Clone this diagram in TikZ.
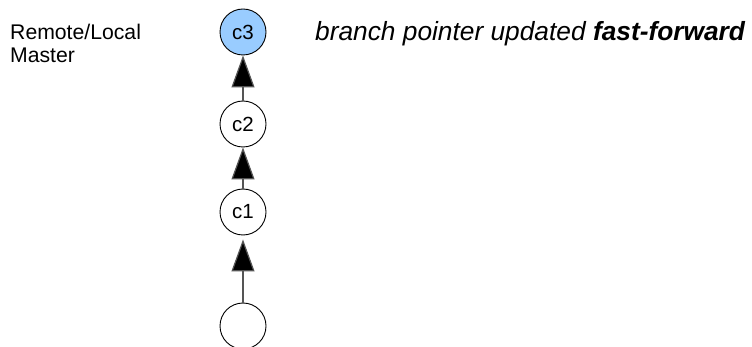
\documentclass[tikz,border=0pt]{standalone}
\usepackage{fontspec}
\setmainfont{Liberation Sans}
\usetikzlibrary{arrows.meta,shapes.geometric}
\definecolor{headblue}{HTML}{99CCFF}
\definecolor{linegray}{HTML}{555555}
\begin{document}
\begin{tikzpicture}[x=1pt,y=-1pt,
  commit/.style={circle,draw=black,line width=0.9pt,minimum size=46pt,inner sep=0pt,font=\fontsize{20.5}{22}\selectfont},
  parent/.style={draw=linegray,line width=1.2pt,-{Triangle[width=23pt,length=32pt,fill=black]}}]
\useasboundingbox (0,0) rectangle (752,347);
\clip (0,0) rectangle (752,347);
\node[commit,fill=headblue] (c3) at (243,32) {c3};
\node[commit,fill=white] (c2) at (243,124) {c2};
\node[commit,fill=white] (c1) at (243,212) {c1};
\node[commit,fill=white] (c0) at (243,326) {};
\draw[parent] (c2) -- (c3);
\draw[parent] (c1) -- (c2);
\draw[parent,shorten >=4pt] (c0) -- (c1);
\node[anchor=north west,align=left,inner sep=0pt,font=\fontsize{21.2}{22.7}\selectfont] (lbl) at (10,23.8) {Remote/Local\\Master};
\node[anchor=base west,inner sep=0pt,font=\fontsize{26.3}{30}\selectfont\itshape] (msg) at (315,41) {branch pointer updated \textbf{fast-forward}};
\end{tikzpicture}
\end{document}
